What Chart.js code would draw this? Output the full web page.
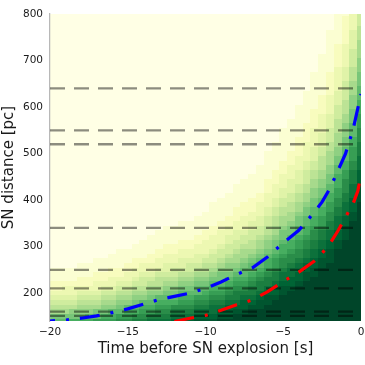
<!DOCTYPE html>
<html>
<head>
<meta charset="utf-8">
<script src="https://cdn.jsdelivr.net/npm/chart.js@4"></script>
<style>
html,body{margin:0;padding:0;background:#ffffff;}
canvas{display:block;}
</style>
</head>
<body>
<canvas id="c" width="365" height="365"></canvas>
<script>
// ---- heatmap grid (time columns, distance rows) ----
const heatTimes = [-20,-19.5,-19,-18.5,-18,-17.5,-17,-16.5,-16,-15.5,-15,-14.5,-14,-13.5,-13,-12.5,-12,-11.5,-11,-10.5,-10,-9.5,-9,-8.5,-8,-7.5,-7,-6.5,-6,-5.5,-5,-4.5,-4,-3.5,-3,-2.5,-2,-1.5,-1,-0.5,0];
const heatDistances = [140,150,160,170,180,190,200,210,220,230,
  240,250,260,270,280,290,300,310,320,330,
  340,350,360,370,380,390,400,410,420,430,
  440,450,460,470,480,490,500,510,520,530,
  540,550,560,570,580,590,600,610,620,630,
  640,650,660,670,680,690,700,710,720,730,
  740,750,760,770,780,790,800];
// shade level runs per time column, from the lowest distance upward ("level:count"), levels 0..18
const heatShadeRuns = [
  "10:1 9:1 7:1 6:1 5:1 4:1 3:1 2:2 1:3 0:55",
  "10:1 9:1 7:1 6:1 5:1 4:1 3:1 2:2 1:3 0:55",
  "10:1 9:1 7:1 6:1 5:1 4:1 3:2 2:1 1:3 0:55",
  "11:1 9:1 8:1 6:1 5:1 4:1 3:2 2:1 1:3 0:55",
  "11:1 9:1 8:1 7:1 6:1 5:1 4:1 3:1 2:2 1:3 0:54",
  "11:1 10:1 8:1 7:1 6:1 5:1 4:1 3:1 2:2 1:3 0:54",
  "12:1 10:1 9:1 7:1 6:1 5:1 4:1 3:2 2:2 1:3 0:53",
  "12:1 11:1 9:1 8:1 7:1 6:1 5:1 4:1 3:1 2:2 1:3 0:53",
  "12:1 11:1 10:1 8:1 7:1 6:1 5:1 4:1 3:2 2:2 1:3 0:52",
  "13:1 12:1 10:1 9:1 8:1 7:1 6:1 5:1 4:1 3:1 2:2 1:4 0:51",
  "13:1 12:1 11:1 10:1 8:1 7:1 6:1 5:1 4:1 3:2 2:2 1:3 0:51",
  "14:1 13:1 11:1 10:1 9:1 8:1 7:1 6:1 5:1 4:1 3:2 2:2 1:3 0:50",
  "14:1 13:1 12:1 11:1 10:1 8:1 7:1 6:1 5:2 4:1 3:2 2:1 1:4 0:49",
  "15:1 14:1 12:1 11:1 10:1 9:1 8:1 7:1 6:1 5:1 4:1 3:2 2:2 1:4 0:48",
  "15:1 14:1 13:1 12:1 11:1 10:1 8:1 7:1 6:2 5:1 4:1 3:2 2:2 1:4 0:47",
  "15:1 14:1 13:1 12:1 11:1 10:1 9:1 8:1 7:1 6:1 5:1 4:2 3:2 2:2 1:4 0:46",
  "16:1 15:1 14:1 13:1 11:1 10:1 9:1 8:1 7:1 6:1 5:2 4:1 3:2 2:2 1:4 0:46",
  "16:1 15:1 14:1 13:1 12:1 11:1 10:1 9:1 8:1 7:1 6:1 5:1 4:2 3:2 2:2 1:4 0:45",
  "16:1 15:1 14:1 13:1 12:1 11:1 10:1 9:1 8:1 7:1 6:1 5:2 4:1 3:2 2:2 1:4 0:45",
  "17:1 16:1 15:1 14:1 13:1 12:1 10:2 9:1 8:1 7:1 6:1 5:1 4:2 3:2 2:2 1:4 0:44",
  "17:1 16:1 15:1 14:1 13:1 12:1 11:1 10:1 9:1 8:1 7:1 6:2 5:1 4:1 3:3 2:2 1:4 0:43",
  "17:1 16:1 15:2 14:1 13:1 12:1 11:1 10:1 9:1 8:1 7:1 6:1 5:2 4:1 3:3 2:2 1:5 0:41",
  "18:1 17:1 16:1 15:1 14:1 13:1 12:1 11:1 10:1 9:2 8:1 7:1 6:1 5:2 4:1 3:3 2:2 1:5 0:40",
  "18:1 17:1 16:2 15:1 14:1 13:1 12:1 11:1 10:1 9:1 8:2 7:1 6:1 5:2 4:2 3:2 2:2 1:5 0:39",
  "18:2 17:1 16:1 15:1 14:2 13:1 12:1 11:1 10:1 9:1 8:1 7:2 6:1 5:2 4:2 3:2 2:3 1:5 0:37",
  "18:2 17:1 16:2 15:1 14:1 13:1 12:1 11:1 10:2 9:1 8:1 7:2 6:1 5:2 4:1 3:3 2:3 1:5 0:36",
  "18:3 17:1 16:1 15:1 14:2 13:1 12:1 11:1 10:2 9:1 8:1 7:1 6:2 5:2 4:2 3:2 2:3 1:5 0:35",
  "18:3 17:2 16:1 15:1 14:2 13:1 12:1 11:1 10:2 9:1 8:1 7:2 6:1 5:2 4:2 3:3 2:2 1:6 0:33",
  "18:4 17:2 16:1 15:1 14:2 13:1 12:1 11:2 10:1 9:1 8:2 7:1 6:2 5:2 4:2 3:3 2:3 1:6 0:30",
  "18:5 17:1 16:2 15:1 14:2 13:1 12:2 11:1 10:1 9:2 8:1 7:2 6:2 5:2 4:2 3:3 2:3 1:6 0:28",
  "18:6 17:2 16:1 15:2 14:1 13:2 12:1 11:2 10:1 9:2 8:1 7:2 6:2 5:2 4:2 3:3 2:3 1:7 0:25",
  "18:7 17:1 16:2 15:2 14:1 13:2 12:1 11:2 10:1 9:2 8:1 7:2 6:2 5:2 4:3 3:3 2:3 1:7 0:23",
  "18:8 17:1 16:2 15:2 14:1 13:2 12:2 11:1 10:2 9:2 8:1 7:2 6:2 5:2 4:3 3:3 2:4 1:7 0:20",
  "18:9 17:2 16:2 15:1 14:2 13:2 12:1 11:2 10:2 9:2 8:1 7:2 6:2 5:3 4:2 3:4 2:4 1:7 0:17",
  "18:10 17:2 16:2 15:2 14:2 13:2 12:1 11:2 10:2 9:2 8:2 7:2 6:2 5:2 4:3 3:4 2:4 1:8 0:13",
  "18:12 17:2 16:2 15:2 14:2 13:1 12:2 11:2 10:2 9:2 8:2 7:2 6:3 5:2 4:3 3:4 2:4 1:9 0:9",
  "18:13 17:3 16:2 15:2 14:2 13:2 12:2 11:2 10:2 9:2 8:2 7:3 6:2 5:3 4:3 3:4 2:5 1:9 0:4",
  "18:16 17:2 16:2 15:3 14:2 13:2 12:2 11:3 10:2 9:2 8:2 7:3 6:3 5:3 4:3 3:5 2:5 1:7",
  "18:18 17:3 16:2 15:3 14:2 13:3 12:2 11:2 10:3 9:2 8:3 7:2 6:3 5:4 4:3 3:5 2:6 1:1",
  "18:22 17:2 16:3 15:3 14:3 13:2 12:3 11:2 10:3 9:3 8:3 7:3 6:3 5:4 4:4 3:4",
  "18:26 17:4 16:3 15:3 14:3 13:3 12:3 11:3 10:3 9:3 8:3 7:4 6:3 5:3"
];
// YlGn shades, level 0 (lightest) to 18 (darkest)
const shadeColors = ['#ffffe5','#fbfed2','#f8fcbe','#edf8b2','#e0f3a8','#cfec9e','#bce395','#a7da8c','#8fd082','#78c679',
  '#60ba6d','#47ae60','#379e54','#2a8d49','#1b7e40','#0c713b','#006435','#00552f','#004529'];

// ---- contour curves ----
const blueTimes = [-20,-19,-18,-17,-16,-15,-14,-13,-12,-11,-10,-9,-8,-7,-6,-5,-4,-3,-2.5,-2,-1.5,-1,-0.5,0];
const blueDistances = [140,142,146,151,158,166,176,186,193,200,210,224,240,254,278,308,335,374,396,425,462,499,553,628];
const redTimes = [-12,-11,-10,-9,-8,-7,-6,-5,-4,-3,-2.5,-2,-1.5,-1,-0.5,-0.2,0];
const redDistances = [139,146,152,163,175,185,203,225,245,269,286,306,333,363,393,420,456];

// ---- reference distances (dashed lines) ----
const starDistances = [640,550,520,340,250,210,160,151];

// ---- ticks ----
const timeTicks = [-20,-15,-10,-5,0];
const distanceTicks = [200,300,400,500,600,700,800];

function expandRuns(s){
  const out = [];
  s.trim().split(/\s+/).forEach(p => {
    const parts = p.split(':').map(Number);
    for (let i = 0; i < parts[1]; i++) out.push(parts[0]);
  });
  return out;
}
const heatGrid = heatShadeRuns.map(expandRuns);

function cellBounds(arr, i){
  const prev = i > 0 ? arr[i-1] : arr[i] - (arr[i+1] - arr[i]);
  const next = i < arr.length - 1 ? arr[i+1] : arr[i] + (arr[i] - arr[i-1]);
  return [(prev + arr[i]) / 2, (arr[i] + next) / 2];
}

const heatmapPlugin = {
  id: 'heatmap',
  beforeDraw(chart){
    const {ctx, chartArea: a, scales: {x, y}} = chart;
    ctx.save();
    ctx.beginPath();
    ctx.rect(a.left, a.top, a.right - a.left, a.bottom - a.top);
    ctx.clip();
    heatTimes.forEach((t, c) => {
      const [t0, t1] = cellBounds(heatTimes, c);
      const xl = Math.round(x.getPixelForValue(t0));
      const xr = Math.round(x.getPixelForValue(t1));
      heatDistances.forEach((d, r) => {
        const [d0, d1] = cellBounds(heatDistances, r);
        const yb = Math.round(y.getPixelForValue(d0));
        const yt = Math.round(y.getPixelForValue(d1));
        const lvl = heatGrid[c][r];
        ctx.fillStyle = shadeColors[lvl === undefined ? 0 : lvl];
        ctx.fillRect(xl, yt, xr - xl, yb - yt);
      });
    });
    ctx.restore();
  }
};

const FONT = 'DejaVu Sans';
const datasets = [];
starDistances.forEach(d => {
  datasets.push({
    data: [{x: timeTicks[0], y: d}, {x: timeTicks[timeTicks.length-1], y: d}],
    borderColor: 'rgba(0,0,0,0.45)',
    borderWidth: 2.3,
    borderDash: [15, 9],
    pointRadius: 0,
    fill: false,
    clip: 0,
    order: 2
  });
});
datasets.push({
  data: blueTimes.map((t, i) => ({x: t, y: blueDistances[i]})),
  borderColor: '#0000ff',
  borderWidth: 3.2,
  borderDash: [20, 11, 3, 11],
  borderDashOffset: 15,
  pointRadius: 0,
  fill: false,
  tension: 0,
  clip: 0,
  order: 1
});
datasets.push({
  data: redTimes.map((t, i) => ({x: t, y: redDistances[i]})),
  borderColor: '#ff0000',
  borderWidth: 3.2,
  borderDash: [20, 11, 3, 11],
  pointRadius: 0,
  fill: false,
  tension: 0,
  clip: 0,
  order: 0
});

new Chart(document.getElementById('c'), {
  type: 'line',
  data: {datasets},
  plugins: [heatmapPlugin],
  options: {
    responsive: false,
    devicePixelRatio: 1,
    animation: false,
    events: [],
    layout: {padding: {top: 14, right: 4, left: 0, bottom: 0}},
    plugins: {legend: {display: false}, tooltip: {enabled: false}},
    scales: {
      x: {
        type: 'linear',
        min: -20, max: 0,
        afterBuildTicks: s => { s.ticks = timeTicks.map(v => ({value: v})); },
        afterFit: s => { s.height = 44; s.paddingLeft = 0; s.paddingRight = 0; },
        grid: {display: false, drawTicks: false},
        border: {display: false},
        ticks: {
          padding: 5, maxRotation: 0, autoSkip: false,
          color: '#1a1a1a', font: {family: FONT, size: 10.5},
          callback: v => v < 0 ? '\u2212' + Math.abs(v) : String(v)
        },
        title: {display: true, text: 'Time before SN explosion [s]', color: '#1a1a1a',
          font: {family: FONT, size: 15}, padding: {top: 0, bottom: 7}}
      },
      y: {
        type: 'linear',
        min: 140, max: 800,
        afterBuildTicks: s => { s.ticks = distanceTicks.map(v => ({value: v})); },
        afterFit: s => { s.width = 50; s.paddingTop = 0; s.paddingBottom = 0; },
        grid: {display: false, drawTicks: false},
        border: {display: true, color: '#b8b8b8', width: 1.25},
        ticks: {
          padding: 7, color: '#1a1a1a', font: {family: FONT, size: 10.5},
          callback: v => String(v)
        },
        title: {display: true, text: 'SN distance [pc]', color: '#1a1a1a',
          font: {family: FONT, size: 15}, padding: {top: 0, bottom: 0}}
      }
    }
  }
});
</script>
</body>
</html>
